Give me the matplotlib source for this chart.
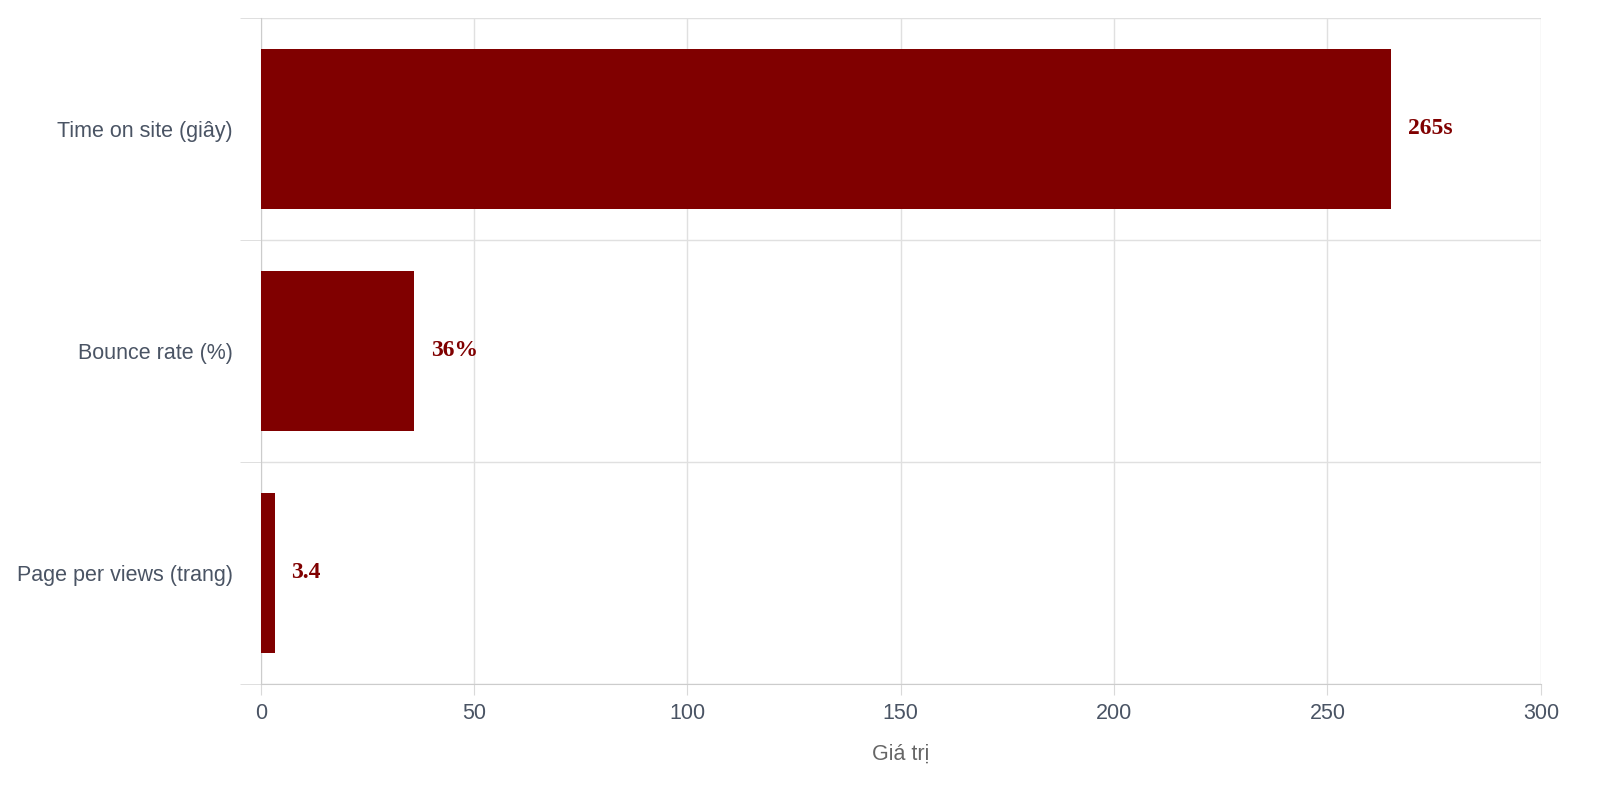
import matplotlib
matplotlib.use("Agg")
import matplotlib.pyplot as plt
from matplotlib.ticker import FixedLocator

plt.rcParams['font.family'] = ['Liberation Sans', 'DejaVu Sans']

categories = ["Time on site (giây)", "Bounce rate (%)", "Page per views (trang)"]
values = [265, 36, 3.4]
labels = ["265s", "36%", "3.4"]

fig = plt.figure(figsize=(16, 8), dpi=100)
ax = fig.add_axes([0.163, 0.145, 0.8, 0.8325])
ypos = list(range(len(categories)))
ax.barh(ypos, values, height=0.72, color="#800000", zorder=3)
for y, v, t in zip(ypos, values, labels):
    ax.text(v + 3.8, y, t, va="center", ha="left", color="#800000",
            fontsize=17, fontweight="bold", family="Liberation Serif", zorder=4)
ax.set_xlim(0, 300)
ax.set_ylim(2.5, -0.5)
ax.set_xticks([0, 50, 100, 150, 200, 250, 300])
ax.set_yticks(ypos)
ax.set_yticklabels(categories)
ax.yaxis.set_minor_locator(FixedLocator([-0.5, 0.5, 1.5, 2.5]))
ax.tick_params(axis="y", which="major", length=0, pad=20, labelsize=15.5, labelcolor="#4a5464")
ax.tick_params(axis="y", which="minor", length=15, color="#d9d9d9")
ax.tick_params(axis="x", length=8, color="#d9d9d9", labelsize=15.5, labelcolor="#4a5464", pad=6)
ax.grid(True, axis="x", color="#e0e0e0", linewidth=1, zorder=0)
ax.grid(True, axis="y", which="minor", color="#e0e0e0", linewidth=1, zorder=0)
for s in ["top", "right"]:
    ax.spines[s].set_visible(False)
for s in ["left", "bottom"]:
    ax.spines[s].set_color("#cccccc")
ax.set_xlabel("Giá trị", fontsize=15.5, color="#666666", labelpad=14)
fig.savefig("out.png", dpi=100)
